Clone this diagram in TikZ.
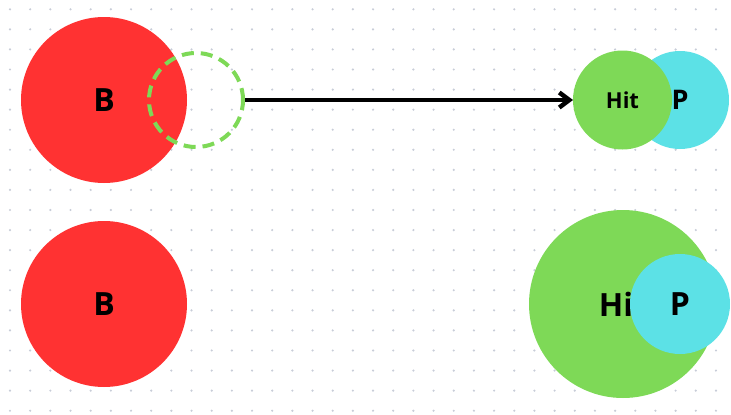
\documentclass[tikz,border=0pt]{standalone}
\usepackage{fontspec}
\setmainfont{Open Sans}
\usepackage{tikz}
\usetikzlibrary{arrows.meta}
\definecolor{ballred}{HTML}{FF3232}
\definecolor{hitgreen}{HTML}{7ED957}
\definecolor{pcyan}{HTML}{5CE1E6}
\definecolor{dotgray}{HTML}{C8CDD8}

\begin{document}
\begin{tikzpicture}[x=1pt, y=-1pt, font=\bfseries,
    disc/.style={circle, inner sep=0pt, outer sep=0pt},
    bigtxt/.style={font=\fontsize{32}{36}\selectfont\bfseries}]
  \useasboundingbox (0,0) rectangle (731,415);
  % dot grid
  \foreach \i in {0,...,35}
    \foreach \j in {0,...,20}
      \fill[dotgray] (10+20.17*\i, 9.3+20.07*\j) circle (1.2);
  % top row
  \node[disc, fill=ballred, minimum size=166, bigtxt] (ballA) at (104,100) {B};
  \node[disc, draw=hitgreen, line width=4pt, dash pattern=on 12pt off 7pt,
        minimum size=94, outer sep=2pt] (ghost) at (196,100) {};
  \node[disc, fill=pcyan, minimum size=98, font=\fontsize{27}{30}\selectfont\bfseries] (pA) at (680,100) {P};
  \node[disc, fill=hitgreen, minimum size=99, font=\fontsize{22}{26}\selectfont\bfseries] (hitA) at (622.5,100) {Hit};
  \draw[line width=4.5pt, -{Straight Barb[length=10pt, width=15pt]}] (ghost.east) -- (hitA.west);
  % bottom row
  \node[disc, fill=ballred, minimum size=166, bigtxt] (ballB) at (104,304) {B};
  \node[disc, fill=hitgreen, minimum size=188, bigtxt] (hitB) at (623,304) {Hit};
  \node[disc, fill=pcyan, minimum size=100, bigtxt] (pB) at (680,304) {P};
\end{tikzpicture}
\end{document}
